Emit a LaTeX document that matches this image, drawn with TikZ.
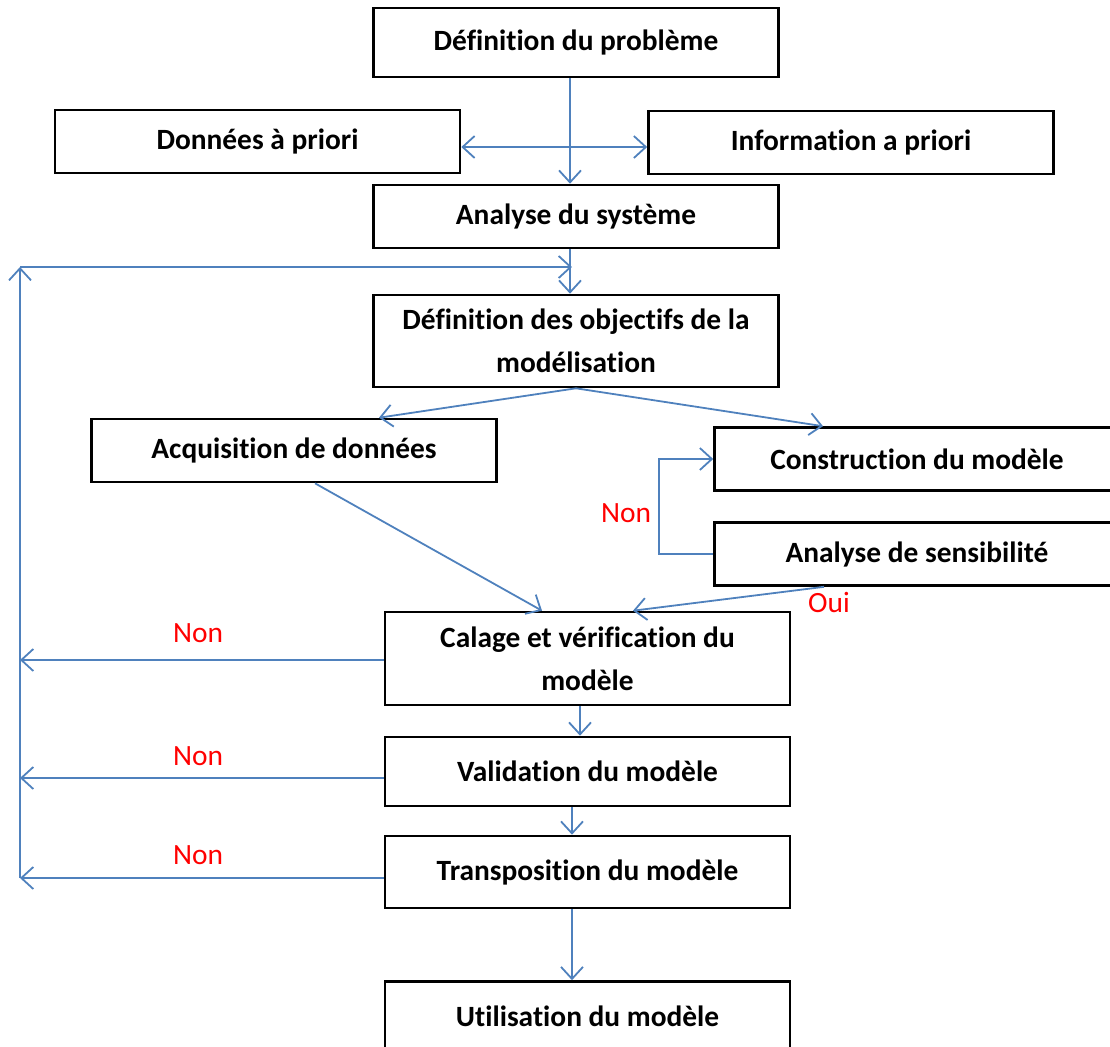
\documentclass[tikz,border=0pt]{standalone}
\usepackage{fontspec}
\setmainfont{Carlito}[Ligatures=NoCommon]
\usepackage{xcolor}
\usepackage{tikz}
\usetikzlibrary{positioning,arrows.meta,calc}
\definecolor{LinkBlue}{HTML}{4F81BD}
\definecolor{LabelRed}{HTML}{FF0000}

\tikzset{
  stepbox/.style={draw=black, line width=1.3pt, minimum width=202.5pt,
    minimum height=31.5pt, align=center,
    font=\fontsize{14.7}{21.5}\selectfont\bfseries},
  link/.style={draw=LinkBlue, line width=0.9pt,
    -{Straight Barb[length=6pt,width=11pt,line width=0.9pt]}},
  answer/.style={text=LabelRed, font=\fontsize{14.7}{18}\selectfont}
}

\begin{document}
\begin{tikzpicture}[x=0.5pt,y=-0.5pt]
        \useasboundingbox (0,0) rectangle (1110,1046);

        % boites
        \node[stepbox, minimum height=34.5pt] (prob) at (576,42.5) {Définition du problème};
        \node[stepbox] (donnees) at (257.5,141.5) {Données à priori};
        \node[stepbox] (info) at (851,142.5) {Information a priori};
        \node[stepbox] (analyse) at (576,216.5) {Analyse du système};
        \node[stepbox, minimum height=46pt] (objectifs) at (576,341)
          {Définition des objectifs de la\\modélisation};
        \node[stepbox] (acquisition) at (294,450.5) {Acquisition de données};
        \node[stepbox] (construction) at (917,459) {Construction du modèle};
        \node[stepbox] (sensibilite) at (917,554) {Analyse de sensibilité};
        \node[stepbox, minimum height=46.5pt] (calage) at (587.5,658.5)
          {Calage et vérification du\\modèle};
        \node[stepbox, minimum height=34.5pt] (validation) at (587.5,771.5) {Validation du modèle};
        \node[stepbox, minimum height=36pt] (transposition) at (587.5,872) {Transposition du modèle};
        \node[stepbox, minimum height=35pt] (utilisation) at (587.5,1016.5) {Utilisation du modèle};

        % boucle de retour
        \coordinate (loopbot) at (20,878);
        \coordinate (looptop) at (20,267);
        \coordinate (loopin) at (572,267);

        % fleches
        \draw[link] ([xshift=-3pt]prob.south) -- ([xshift=-3pt]analyse.north);
        \draw[link, {Straight Barb[length=6pt,width=11pt,line width=0.9pt]}-{Straight Barb[length=6pt,width=11pt,line width=0.9pt]}]
          ([yshift=-2.75pt]donnees.east) -- ([yshift=-2.75pt]donnees.east -| info.west);
        \draw[link] ([xshift=-3pt]analyse.south) -- ([xshift=-3pt]objectifs.north);
        \draw[link] (loopbot) -- (looptop);
        \draw[link] (looptop) -- (loopin);
        \draw[link] (objectifs.south) -- ([xshift=42.5pt]acquisition.north);
        \draw[link] (objectifs.south) -- ([xshift=-47pt]construction.north);
        \draw[link] ([xshift=10.5pt]acquisition.south) -- ([xshift=-22.75pt]calage.north);
        \draw[link] ([xshift=-46.5pt]sensibilite.south) -- ([xshift=22.75pt]calage.north);
        \draw[link] (sensibilite.west) -- ++(-27pt,0) |- (construction.west);
        \draw[link] ([yshift=-0.75pt]calage.west) -- ([yshift=-0.75pt]calage.west -| loopbot);
        \draw[link] ([xshift=-3.75pt]calage.south) -- ([xshift=-3.75pt]validation.north);
        \draw[link] ([yshift=-3.25pt]validation.west) -- ([yshift=-3.25pt]validation.west -| loopbot);
        \draw[link] ([xshift=-7.75pt]validation.south) -- ([xshift=-7.75pt]transposition.north);
        \draw[link] ([yshift=-3pt]transposition.west) -- (loopbot);
        \draw[link] ([xshift=-7.75pt]transposition.south) -- ([xshift=-7.75pt]utilisation.north);

        % reponses
        \node[answer] (nonsens) at (626,513) {Non};
        \node[answer] (ouisens) at (829,602) {Oui};
        \node[answer] (noncal) at (198,633) {Non};
        \node[answer] (nonval) at (198,756) {Non};
        \node[answer] (nontrans) at (198,855) {Non};
      \end{tikzpicture}
\end{document}
